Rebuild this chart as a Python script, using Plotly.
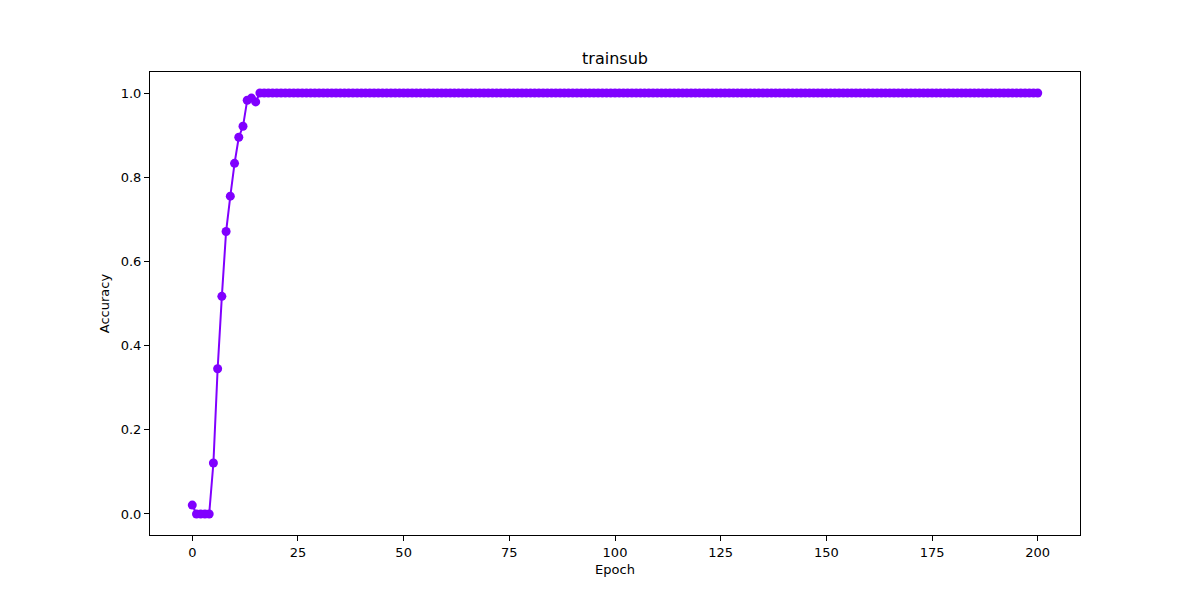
import plotly.graph_objects as go

epochs = list(range(0, 201))
early_acc = [0.021, 0.0, 0.0, 0.0, 0.0, 0.121, 0.345, 0.517, 0.671, 0.755,
             0.833, 0.895, 0.921, 0.983, 0.988, 0.979]
accuracy = early_acc + [1.0] * (201 - len(early_acc))

color = "#8000ff"

fig = go.Figure()
fig.add_trace(go.Scatter(
    x=epochs, y=accuracy, mode="lines+markers",
    line=dict(color=color, width=2),
    marker=dict(color=color, size=9),
    showlegend=False,
))

axis_common = dict(
    showline=True, linecolor="black", linewidth=1, mirror=True,
    ticks="outside", ticklen=5, tickcolor="black", showgrid=False,
    zeroline=False, tickfont=dict(size=13, color="black"),
)

fig.update_layout(
    width=1200, height=600,
    paper_bgcolor="white", plot_bgcolor="white",
    font=dict(family="DejaVu Sans", color="black"),
    margin=dict(l=142, r=128, t=64, b=73),
    title=dict(text="trainsub", x=(615 - 8) / 1200, xanchor="center", y=1 - 50 / 600,
               yanchor="middle", font=dict(size=16)),
    xaxis=dict(range=[-10, 210], tickvals=[0, 25, 50, 75, 100, 125, 150, 175, 200],
               title=dict(text="Epoch", font=dict(size=13), standoff=6), **axis_common),
    yaxis=dict(range=[-0.05, 1.05], tickvals=[0, 0.2, 0.4, 0.6, 0.8, 1.0],
               tickformat=".1f",
               title=dict(text="Accuracy", font=dict(size=13), standoff=8), **axis_common),
)

fig.write_html("out.html")
